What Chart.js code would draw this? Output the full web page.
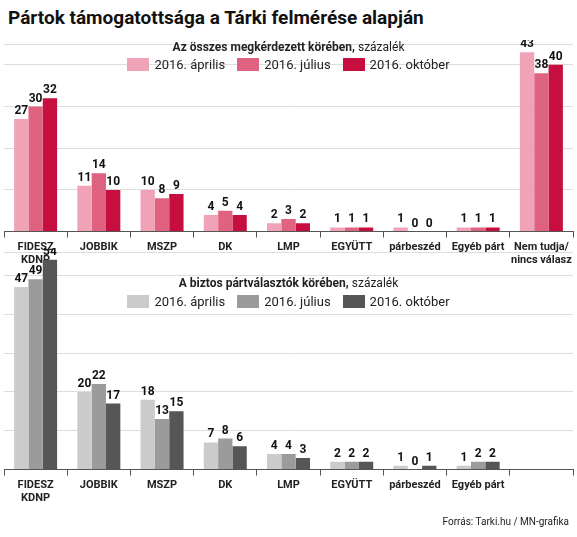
<!DOCTYPE html>
<html><head><meta charset="utf-8">
<script src="https://cdn.jsdelivr.net/npm/chart.js@4"></script>
<style>
body{margin:0;width:577px;height:537px;background:#fff;font-family:'Liberation Sans Narrow','Roboto',sans-serif;position:relative;overflow:hidden}
#t{position:absolute;left:8px;top:6px;font:bold 19px 'Liberation Sans Narrow',Roboto,sans-serif;color:#111}
.st{position:absolute;left:0;width:577px;text-align:center;font-size:12px;color:#222;z-index:2}
.lg{position:absolute;left:0;width:577px;text-align:center;font-size:13px;color:#222;z-index:2}
.lg span{display:inline-block;margin:0 6px}
.lg i{display:inline-block;width:22px;height:13px;vertical-align:-2px;margin-right:5px}
#c1w{position:absolute;left:0;top:40px;width:577px;height:230px}
#c2w{position:absolute;left:0;top:248px;width:577px;height:260px}
#src{position:absolute;right:8px;top:516px;font-size:10px;color:#222}
</style></head><body>
<div id="t">Pártok támogatottsága a Tárki felmérése alapján</div>
<div id="c1w"><canvas id="c1"></canvas></div>
<div id="c2w"><canvas id="c2"></canvas></div>
<div class="st" style="top:40px"><b>Az összes megkérdezett körében,</b> százalék</div>
<div class="lg" id="l1" style="top:57px"></div>
<div class="st" style="top:276px"><b>A biztos pártválasztók körében,</b> százalék</div>
<div class="lg" id="l2" style="top:294px"></div>
<div id="src">Forrás: Tarki.hu / MN-grafika</div>
<script>
const seriesNames=['2016. április','2016. július','2016. október'];
const cats1=[['FIDESZ','KDNP'],'JOBBIK','MSZP','DK','LMP','EGYÜTT','párbeszéd','Egyéb párt',['Nem tudja/','nincs válasz']];
const all_apr=[27,11,10,4,2,1,1,1,43];
const all_jul=[30,14,8,5,3,1,0,1,38];
const all_okt=[32,10,9,4,2,1,0,1,40];
const cats2=[['FIDESZ','KDNP'],'JOBBIK','MSZP','DK','LMP','EGYÜTT','párbeszéd','Egyéb párt',''];
const sure_apr=[47,20,18,7,4,2,1,1,null];
const sure_jul=[49,22,13,8,4,2,0,2,null];
const sure_okt=[54,17,15,6,3,2,1,2,null];
const FONT="'Liberation Sans Narrow', Roboto, sans-serif";
const labelPlugin={id:'vals',afterDatasetsDraw(ch){const c=ch.ctx;c.save();c.font='bold 12px '+FONT;c.fillStyle='#111';c.textAlign='center';c.textBaseline='bottom';
ch.data.datasets.forEach((d,i)=>{ch.getDatasetMeta(i).data.forEach((b,j)=>{const v=d.data[j];if(v==null)return;c.fillText(v,b.x,b.y-2);});});c.restore();}};
function make(id,lid,cats,data,colors,max){
document.getElementById(lid).innerHTML=seriesNames.map((n,i)=>'<span><i style="background:'+colors[i]+'"></i>'+n+'</span>').join('');
new Chart(document.getElementById(id),{type:'bar',
data:{labels:cats,datasets:data.map((d,i)=>({label:seriesNames[i],data:d,backgroundColor:colors[i],categoryPercentage:0.68,barPercentage:1}))},
options:{responsive:true,maintainAspectRatio:false,animation:false,
layout:{padding:{left:4,right:4,top:4}},
plugins:{legend:{display:false},tooltip:{enabled:false}},
scales:{x:{grid:{display:true,drawOnChartArea:false,offset:true,tickLength:6,color:'#555'},border:{color:'#555'},ticks:{font:{size:11,family:FONT,weight:'bold'},color:'#222',maxRotation:0,autoSkip:false}},
y:{display:true,min:0,max:max,ticks:{display:false,stepSize:10},border:{display:false},grid:{color:'#ddd',borderDash:[2,2],drawTicks:false}}}},
plugins:[labelPlugin]});}
make('c1','l1',cats1,[all_apr,all_jul,all_okt],['#f0a3b6','#df6381','#c70f3f'],45);
make('c2','l2',cats2,[sure_apr,sure_jul,sure_okt],['#cbcbcb','#9b9b9b','#565656'],56);
</script></body></html>
